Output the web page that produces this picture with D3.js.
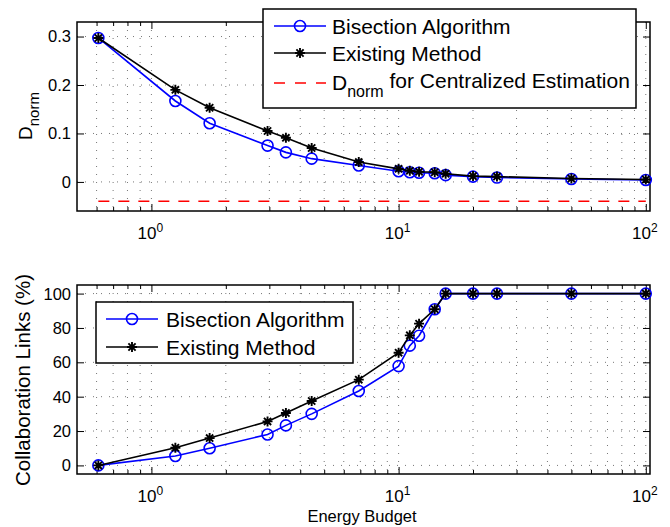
<!DOCTYPE html>
<html>
<head>
<meta charset="utf-8">
<script src="https://cdn.jsdelivr.net/npm/d3@7"></script>
<style>
  body { margin: 0; background: #fff; }
  text { font-family: "Liberation Sans", Arial, Helvetica, sans-serif; fill: #000; }
</style>
</head>
<body>
<svg width="670" height="527"></svg>
<script>
// energy budget (x axis, log scale)
var budget = [0.61, 1.25, 1.72, 2.95, 3.5, 4.45, 6.9, 10, 11.1, 12.1, 14, 15.5, 20, 25, 50, 100];

// top panel: D_norm
var dnormBisection = [0.297, 0.167, 0.121, 0.075, 0.061, 0.048, 0.034, 0.022, 0.020, 0.019, 0.018, 0.014, 0.011, 0.009, 0.006, 0.004];
var dnormExisting  = [0.297, 0.190, 0.153, 0.105, 0.091, 0.070, 0.041, 0.027, 0.023, 0.021, 0.020, 0.017, 0.012, 0.011, 0.007, 0.005];
var dnormCentral = -0.04;

// bottom panel: collaboration links (%)
var linksBisection = [0, 5.5, 10, 18, 23.3, 30, 43.3, 57.8, 69.7, 75.5, 90.9, 100, 100, 100, 100, 100];
var linksExisting  = [0, 10.3, 15.9, 25.6, 30.5, 37.5, 49.9, 65.6, 75.7, 82.5, 90.9, 100, 100, 100, 100, 100];

var topTicks = [0, 0.1, 0.2, 0.3];
var bottomTicks = [0, 20, 40, 60, 80, 100];
var decades = [1, 10, 100];

var svg = d3.select('svg');
var left = 77, right = 650;

var xScale = d3.scaleLog()
    .domain([0.5, 104])
    .range([left, right]);

// minor ticks of the log axis
var minor = [];
[0.1, 1, 10].forEach(function(d) {
  for (var k = 2; k <= 9; k++) {
    var v = d * k;
    if (v > 0.5 && v < 104 && decades.indexOf(v) < 0) minor.push(v);
  }
});

function drawPanel(top, bottom, yDomain, yTicks, yFmt) {
  var yScale = d3.scaleLinear().domain(yDomain).range([bottom, top]);
  var g = svg.append('g');

  // grid
  g.selectAll('.vgrid')
    .data(minor.concat(decades))
    .enter().append('line')
    .attr('x1', d => xScale(d)).attr('x2', d => xScale(d))
    .attr('y1', top).attr('y2', bottom)
    .attr('stroke', '#777').attr('stroke-width', 1)
    .attr('stroke-dasharray', '1,7');
  g.selectAll('.hgrid')
    .data(yTicks)
    .enter().append('line')
    .attr('x1', left).attr('x2', right)
    .attr('y1', d => yScale(d)).attr('y2', d => yScale(d))
    .attr('stroke', '#777').attr('stroke-width', 1)
    .attr('stroke-dasharray', '1,7');

  // axes with inward ticks on all four sides
  var xMajor = d3.axisBottom(xScale).tickValues(decades).tickSize(-7).tickFormat('');
  var xMinor = d3.axisBottom(xScale).tickValues(minor).tickSize(-4).tickFormat('');
  var xMajorT = d3.axisTop(xScale).tickValues(decades).tickSize(-7).tickFormat('');
  var xMinorT = d3.axisTop(xScale).tickValues(minor).tickSize(-4).tickFormat('');
  var yAxis = d3.axisLeft(yScale).tickValues(yTicks).tickSize(-7).tickFormat('');
  var yAxisR = d3.axisRight(yScale).tickValues(yTicks).tickSize(-7).tickFormat('');

  [[xMajor, 'translate(0,' + bottom + ')'], [xMinor, 'translate(0,' + bottom + ')'],
   [xMajorT, 'translate(0,' + top + ')'], [xMinorT, 'translate(0,' + top + ')'],
   [yAxis, 'translate(' + left + ',0)'], [yAxisR, 'translate(' + right + ',0)']]
  .forEach(function(a) {
    var ax = g.append('g').attr('transform', a[1]).call(a[0]);
    ax.select('.domain').remove();
    ax.selectAll('line').attr('stroke', '#000').attr('stroke-width', 1);
  });

  g.append('rect')
    .attr('x', left).attr('y', top)
    .attr('width', right - left).attr('height', bottom - top)
    .attr('fill', 'none').attr('stroke', '#000').attr('stroke-width', 1.5);

  // tick labels
  g.selectAll('.ylab')
    .data(yTicks)
    .enter().append('text')
    .attr('x', left - 6)
    .attr('y', d => yScale(d))
    .attr('dy', '0.36em')
    .style('text-anchor', 'end')
    .style('font-size', '16.5px')
    .text(yFmt);

  var xl = g.selectAll('.xlab')
    .data(decades)
    .enter().append('text')
    .attr('x', d => xScale(d) - 1)
    .attr('y', bottom + 28)
    .style('text-anchor', 'middle')
    .style('font-size', '17px');
  xl.append('tspan').text('10');
  xl.append('tspan').attr('dy', '-0.6em').style('font-size', '12px').text(d => Math.round(Math.log10(d)));

  return yScale;
}

function starPath(cx, cy, r) {
  var q = r * 0.72;
  return 'M' + (cx - r) + ',' + cy + 'H' + (cx + r) +
         'M' + cx + ',' + (cy - r) + 'V' + (cy + r) +
         'M' + (cx - q) + ',' + (cy - q) + 'L' + (cx + q) + ',' + (cy + q) +
         'M' + (cx - q) + ',' + (cy + q) + 'L' + (cx + q) + ',' + (cy - q);
}

function drawSeries(yScale, values, color, marker) {
  var pts = budget.map((b, i) => [b, values[i]]);
  svg.append('path')
    .datum(pts)
    .attr('fill', 'none')
    .attr('stroke', color)
    .attr('stroke-width', 1.6)
    .attr('d', d3.line().x(d => xScale(d[0])).y(d => yScale(d[1])));
  if (marker === 'o') {
    svg.selectAll(null)
      .data(pts).enter().append('circle')
      .attr('cx', d => xScale(d[0])).attr('cy', d => yScale(d[1]))
      .attr('r', 5.5)
      .attr('fill', 'none').attr('stroke', color).attr('stroke-width', 1.6);
  } else {
    svg.selectAll(null)
      .data(pts).enter().append('path')
      .attr('d', d => starPath(xScale(d[0]), yScale(d[1]), 5))
      .attr('stroke', color).attr('stroke-width', 1.9);
  }
}

function legendEntry(x, y, color, marker, dash) {
  svg.append('line')
    .attr('x1', x).attr('x2', x + 52).attr('y1', y).attr('y2', y)
    .attr('stroke', color).attr('stroke-width', 1.6)
    .attr('stroke-dasharray', dash || null);
  if (marker === 'o') {
    svg.append('circle').attr('cx', x + 26).attr('cy', y).attr('r', 5.5)
      .attr('fill', 'none').attr('stroke', color).attr('stroke-width', 1.6);
  } else if (marker === '*') {
    svg.append('path').attr('d', starPath(x + 26, y, 5))
      .attr('stroke', color).attr('stroke-width', 1.9);
  }
}

// ---- top panel ----
var yTop = drawPanel(22, 211, [-0.06, 0.33], topTicks, d => d === 0 ? '0' : d3.format('.1f')(d));

svg.append('line')
  .attr('x1', xScale(budget[0])).attr('x2', xScale(budget[budget.length - 1]))
  .attr('y1', yTop(dnormCentral)).attr('y2', yTop(dnormCentral))
  .attr('stroke', '#ff0000').attr('stroke-width', 1.6)
  .attr('stroke-dasharray', '11,9');

drawSeries(yTop, dnormBisection, '#0000ff', 'o');
drawSeries(yTop, dnormExisting, '#000000', '*');

svg.append('text')
  .attr('transform', 'translate(32,' + 140 + ') rotate(-90)')
  .style('font-size', '19px')
  .text('D')
  .append('tspan').attr('dy', '0.45em').style('font-size', '15px').text('norm');

// top legend
svg.append('rect')
  .attr('x', 263).attr('y', 9).attr('width', 373).attr('height', 99)
  .attr('fill', '#fff').attr('stroke', '#000').attr('stroke-width', 1.5);
legendEntry(274, 26, '#0000ff', 'o');
legendEntry(274, 53, '#000000', '*');
legendEntry(274, 83, '#ff0000', null, '11,10');
svg.append('text').attr('x', 332).attr('y', 33.5).style('font-size', '21px').text('Bisection Algorithm');
svg.append('text').attr('x', 332).attr('y', 61).style('font-size', '21px').text('Existing Method');
var t3 = svg.append('text').attr('x', 332).attr('y', 90).style('font-size', '21px');
t3.append('tspan').text('D');
t3.append('tspan').attr('dy', '0.45em').style('font-size', '16px').text('norm');
t3.append('tspan').attr('dy', '-0.45em').text(' for Centralized Estimation');

// ---- bottom panel ----
var yBot = drawPanel(285, 474, [-5, 105], bottomTicks, d => d);

drawSeries(yBot, linksBisection, '#0000ff', 'o');
drawSeries(yBot, linksExisting, '#000000', '*');

svg.append('text')
  .attr('transform', 'translate(30,' + 380 + ') rotate(-90)')
  .style('text-anchor', 'middle')
  .style('font-size', '20.5px')
  .text('Collaboration Links (%)');

svg.append('text')
  .attr('x', 362).attr('y', 522)
  .style('text-anchor', 'middle')
  .style('font-size', '16.5px')
  .text('Energy Budget');

// bottom legend
svg.append('rect')
  .attr('x', 96).attr('y', 302).attr('width', 257).attr('height', 61)
  .attr('fill', '#fff').attr('stroke', '#000').attr('stroke-width', 1.5);
legendEntry(106, 319, '#0000ff', 'o');
legendEntry(106, 347, '#000000', '*');
svg.append('text').attr('x', 166).attr('y', 326.5).style('font-size', '21px').text('Bisection Algorithm');
svg.append('text').attr('x', 166).attr('y', 354.5).style('font-size', '21px').text('Existing Method');
</script>
</body>
</html>
